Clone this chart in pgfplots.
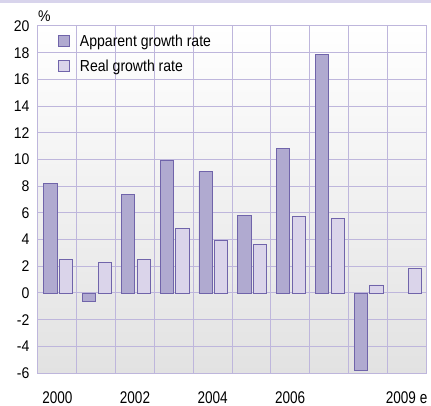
\documentclass[border=0pt]{standalone}
\usepackage{pgfplots}
\pgfplotsset{compat=1.18}
\usepackage{fontspec}
\setmainfont{Liberation Sans}[FakeStretch=0.91]
\newfontfamily\xfont{Liberation Sans}[FakeStretch=0.8]
\newfontfamily\legfont{Liberation Sans}[FakeStretch=0.88]
\definecolor{gridc}{RGB}{190,182,220}
\definecolor{appfill}{RGB}{176,170,208}
\definecolor{realfill}{RGB}{218,212,234}
\definecolor{barline}{RGB}{112,100,170}
\definecolor{band}{RGB}{216,212,236}
\definecolor{bgbot}{RGB}{226,226,226}
\begin{document}
\begin{tikzpicture}[font=\fontsize{15.5}{18}\selectfont]
\useasboundingbox (0,0) rectangle (431bp,406bp);
\fill[band] (0,403bp) rectangle (431bp,406bp);
\begin{axis}[
  at={(38bp,33bp)}, anchor=south west,
  width=388bp, height=347bp, scale only axis,
  clip=false,
  xmin=-0.5, xmax=9.5, ymin=-6, ymax=20,
  xtick={0,2,4,6,9},
  xticklabels={2000,2002,2004,2006,2009 e},
  minor xtick={-0.5,0.5,...,9.5},
  ytick={-6,-4,...,20},
  xminorgrids=true, xmajorgrids=false, ymajorgrids=true,
  grid style={color=gridc, line width=1bp},
  minor grid style={color=gridc, line width=1bp},
  axis line style={color=gridc, line width=1bp},
  major tick length=0pt, minor tick length=0pt,
  tick style={draw=none},
  /pgf/number format/assume math mode=true,
  yticklabel style={font=\fontsize{15.5}{18}\selectfont, anchor=east, xshift=-5bp},
  xticklabel style={font=\xfont\fontsize{17}{20}\selectfont, anchor=north, yshift=-15bp},
  axis background/.style={shade, top color=white, bottom color=bgbot},
  legend style={draw=none, fill=none, at={(0,1)}, anchor=north west,
    xshift=20bp, yshift=-9bp, inner sep=0pt, row sep=12bp,
    /tikz/column sep=10bp,
    nodes={inner sep=0pt, anchor=base west},
    font=\legfont\fontsize{16}{19}\selectfont},
  legend cell align=left,
  legend image code/.code={\draw[#1, line width=0.8bp] (0bp,0bp) rectangle (11bp,11bp);},
]
\addplot[ybar, bar width=13.2bp, bar shift=-7bp, fill=appfill, draw=barline, line width=0.8bp]
  coordinates {(0,8.2) (1,-0.6) (2,7.4) (3,9.9) (4,9.1) (5,5.8) (6,10.8) (7,17.9) (8,-5.8)};
\addlegendentry{Apparent growth rate}
\addplot[ybar, bar width=13.2bp, bar shift=8.5bp, fill=realfill, draw=barline, line width=0.8bp]
  coordinates {(0,2.5) (1,2.3) (2,2.5) (3,4.8) (4,3.9) (5,3.6) (6,5.7) (7,5.6) (8,0.6) (9,1.8)};
\addlegendentry{Real growth rate}
\node[anchor=south west, inner sep=0pt, font=\fontsize{15.5}{18}\selectfont] at (rel axis cs:0,1) [yshift=4bp] {\%};
\end{axis}
\end{tikzpicture}
\end{document}
